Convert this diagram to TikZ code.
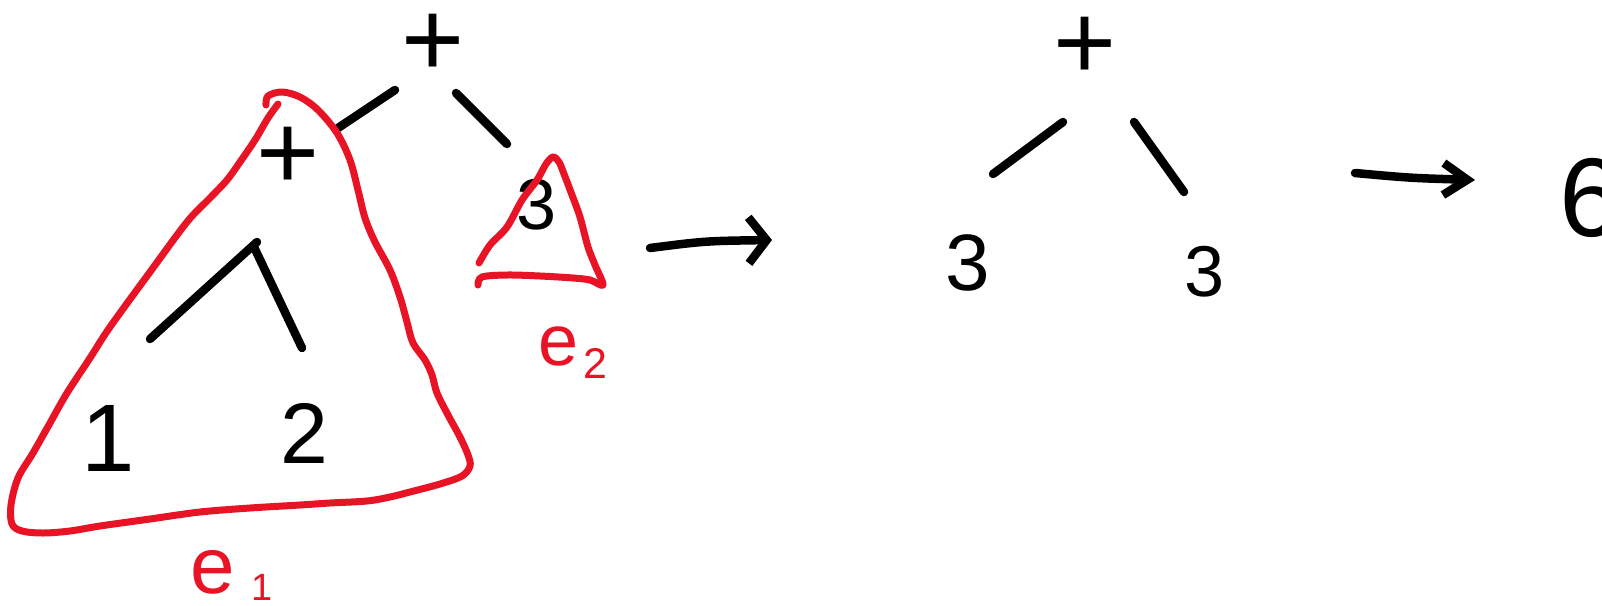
\documentclass[tikz,border=0pt]{standalone}
\usepackage{fontspec}
\setmainfont{Liberation Sans}
\usetikzlibrary{arrows.meta}
\definecolor{redpen}{RGB}{232,20,38}
\begin{document}
\begin{tikzpicture}[x=1pt,y=-1pt,
  stroke/.style={line width=8.5pt,line cap=round,line join=round},
  redline/.style={draw=redpen,line width=7pt,line cap=round,line join=round},
  hand/.style={inner sep=0pt,font=\fontsize{#1}{#1}\selectfont},
  hand/.default=84,
  lab/.style={text=redpen,inner sep=0pt,anchor=base west}
]
\useasboundingbox (0,0) rectangle (1602,605);
% left tree
\node[hand=108] (top) at (433,45) {+};
\node[hand=108] (lplus) at (288,158) {+};
\node[hand=72] (three) at (537,205) {3};
\node[hand=96] (one) at (108,438) {1};
\node[hand=86] (two) at (304,433) {2};
\draw[stroke] ([shift={(-38,45)}]top.center) -- ([shift={(50,-30)}]lplus.center);
\draw[stroke] ([shift={(23,48)}]top.center) -- ([shift={(-30,-61)}]three.center);
\draw[stroke] ([shift={(-31,84)}]lplus.center) -- ([shift={(42,-99)}]one.center);
\draw[stroke] ([shift={(-34,89)}]lplus.center) -- ([shift={(-2,-85)}]two.center);
% red outlines
\draw[redline] plot[smooth,tension=0.55] coordinates {
 (266,105) (268,96) (282,92) (300,97) (318,110) (337,133) (350,160) (358,190)
 (365,218) (375,242) (390,270) (400,297) (407,322) (413,343) (425,360) (432,375)
 (437,393) (448,415) (460,437) (468,455) (470,466) (462,476) (440,484) (410,492)
 (390,497) (367,501) (330,503) (300,505) (250,508) (200,512) (150,519) (100,526)
 (70,531) (43,533) (22,531) (12,524) (11,505) (18,478) (33,453) (50,423) (67,393)
 (90,358) (110,327) (150,272) (187,222) (210,198) (227,180) (240,162) (255,140)
 (268,118) (278,104)};
\draw[redline] plot[smooth,tension=0.55] coordinates {
 (479,263) (490,245) (507,227) (522,200) (537,180) (546,164) (553,157) (559,162)
 (564,174) (572,195) (580,217) (588,247) (595,265) (603,285) (590,280) (573,278)
 (540,276) (507,275) (482,277) (478,285)};
\node[lab,font=\fontsize{80}{80}\selectfont] (e1) at (190,593)
  {e\hspace{17pt}\raisebox{-7pt}{\fontsize{38}{38}\selectfont 1}};
\node[lab,font=\fontsize{72}{72}\selectfont] (e2) at (538,365)
  {e\hspace{5pt}\raisebox{-13pt}{\fontsize{43}{43}\selectfont 2}};
% arrow 1
\coordinate (a1s) at (650,248);
\coordinate (a1e) at (772,240);
\draw[stroke,-{Straight Barb[length=18pt,width=46pt]}] (a1s) .. controls (705,241) .. (a1e);
% right tree
\node[hand=108] (rtop) at (1085,48) {+};
\node[hand=80] (r3a) at (968,263) {3};
\node[hand=72] (r3b) at (1205,272) {3};
\draw[stroke] ([shift={(-22,74)}]rtop.center) -- ([shift={(25,-89)}]r3a.center);
\draw[stroke] ([shift={(49,74)}]rtop.center) -- ([shift={(-21,-80)}]r3b.center);
% arrow 2
\coordinate (a2s) at (1355,173);
\coordinate (a2e) at (1475,180);
\draw[stroke,-{Straight Barb[length=24pt,width=32pt]}] (a2s) .. controls (1410,178) .. (a2e);
\node[hand=112] (six) at (1591,198) {6};
\end{tikzpicture}
\end{document}
